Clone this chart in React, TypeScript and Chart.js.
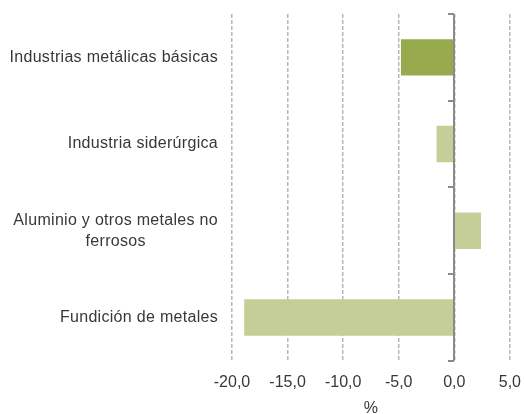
import React, { useEffect, useRef } from 'react';
import { Chart, registerables } from 'chart.js';

Chart.register(...registerables);

const categories: string[][] = [
  ['Industrias metálicas básicas'],
  ['Industria siderúrgica'],
  ['Aluminio y otros metales no', 'ferrosos'],
  ['Fundición de metales'],
];
const values: number[] = [-4.8, -1.6, 2.4, -18.9];
const barColors: string[] = ['#97AB4E', '#C5CE96', '#C5CE96', '#C5CE96'];
const xMin = -20;
const xMax = 5;
const xStep = 5;
const xTitle = '%';

const FONT = '"Liberation Sans", Arial, sans-serif';
const TEXT_COLOR = '#383838';

const customAxisPlugin = {
  id: 'customAxis',
  afterDatasetsDraw(chart: any) {
    const ctx = chart.ctx;
    const ys = chart.scales.y;
    const xs = chart.scales.x;
    const area = chart.chartArea;
    ctx.save();
    // zero axis line
    const x0 = Math.round(xs.getPixelForValue(0));
    ctx.strokeStyle = '#8a8a8a';
    ctx.lineWidth = 2;
    ctx.beginPath();
    ctx.moveTo(x0, area.top);
    ctx.lineTo(x0, area.bottom);
    ctx.stroke();
    for (let i = 0; i <= categories.length; i++) {
      const yy = Math.round(ys.getPixelForValue(i - 0.5));
      ctx.beginPath();
      ctx.moveTo(x0 - 6, yy);
      ctx.lineTo(x0, yy);
      ctx.stroke();
    }
    // category labels
    ctx.font = '16px ' + FONT;
    try {
      (ctx as any).letterSpacing = '0.3px';
    } catch (e) {}
    ctx.fillStyle = TEXT_COLOR;
    ctx.textBaseline = 'middle';
    ctx.textAlign = 'center';
    const right = area.left - 14;
    const lh = 21;
    categories.forEach((lines, i) => {
      const cy = ys.getPixelForValue(i);
      const maxW = Math.max(...lines.map((l) => ctx.measureText(l).width));
      const cx = right - maxW / 2;
      lines.forEach((l, j) => {
        ctx.fillText(l, cx, cy + (j - (lines.length - 1) / 2) * lh);
      });
    });
    ctx.restore();
  },
};

export default function App() {
  const canvasRef = useRef<HTMLCanvasElement | null>(null);

  useEffect(() => {
    document.body.style.margin = '0';
    const canvas = canvasRef.current;
    if (!canvas) return;
    const chart = new Chart(canvas, {
      type: 'bar',
      data: {
        labels: categories.map((c) => c.join(' ')),
        datasets: [
          {
            data: values,
            backgroundColor: barColors,
            borderWidth: 0,
            barPercentage: 0.42,
            categoryPercentage: 1,
          },
        ],
      },
      options: {
        indexAxis: 'y',
        animation: false,
        responsive: true,
        maintainAspectRatio: false,
        layout: { padding: { left: 232, right: 4, top: 14, bottom: 0 } },
        plugins: {
          legend: { display: false },
          tooltip: { enabled: false },
        },
        scales: {
          y: {
            display: false,
          },
          x: {
            min: xMin,
            max: xMax,
            ticks: {
              stepSize: xStep,
              padding: 3,
              color: TEXT_COLOR,
              font: { family: FONT, size: 16 },
              callback: (v: any) => Number(v).toFixed(1).replace('.', ','),
            },
            grid: {
              color: '#b8b8b8',
              lineWidth: 1.5,
              drawTicks: true,
              tickLength: 9,
              tickColor: 'rgba(0,0,0,0)',
            },
            border: { display: false, dash: [4, 2] },
            title: {
              display: true,
              text: xTitle,
              color: TEXT_COLOR,
              font: { family: FONT, size: 16, lineHeight: 1 },
              padding: { top: 6, bottom: -3 },
            },
          },
        },
      },
      plugins: [customAxisPlugin],
    });
    return () => chart.destroy();
  }, []);

  return (
    <div style={{ width: 524, height: 414, position: 'relative' }}>
      <canvas ref={canvasRef} />
    </div>
  );
}
